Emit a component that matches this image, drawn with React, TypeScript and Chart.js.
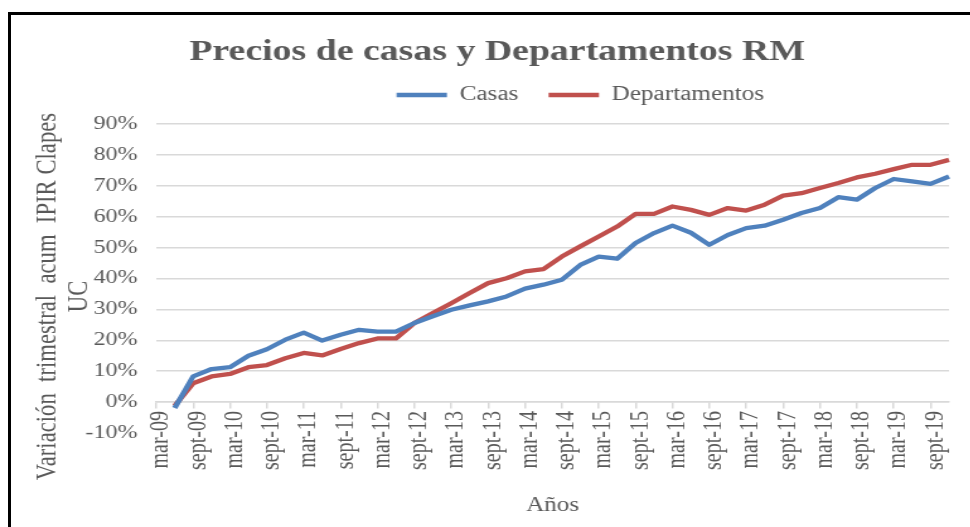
import React, { useEffect, useRef } from 'react';
import { Chart, registerables } from 'chart.js';

Chart.register(...registerables);

const TITLE = 'Precios de casas y Departamentos RM';
const X_TITLE = 'Años';
const Y_TITLE_LINES = ['Variación  trimestral  acum  IPIR Clapes', 'UC'];

const QUARTER_LABELS = [
  'mar-09', 'jun-09', 'sept-09', 'dic-09',
  'mar-10', 'jun-10', 'sept-10', 'dic-10',
  'mar-11', 'jun-11', 'sept-11', 'dic-11',
  'mar-12', 'jun-12', 'sept-12', 'dic-12',
  'mar-13', 'jun-13', 'sept-13', 'dic-13',
  'mar-14', 'jun-14', 'sept-14', 'dic-14',
  'mar-15', 'jun-15', 'sept-15', 'dic-15',
  'mar-16', 'jun-16', 'sept-16', 'dic-16',
  'mar-17', 'jun-17', 'sept-17', 'dic-17',
  'mar-18', 'jun-18', 'sept-18', 'dic-18',
  'mar-19', 'jun-19', 'sept-19', 'dic-19',
];

const CASAS = [
  null, -1.9, 8.3, 10.7,
  11.3, 15.0, 17.1, 20.2,
  22.5, 19.9, 21.8, 23.4,
  22.8, 22.8, 25.6, 27.8,
  29.9, 31.3, 32.6, 34.2,
  36.7, 38.0, 39.6, 44.4,
  47.1, 46.4, 51.5, 54.7,
  57.1, 54.8, 50.9, 54.1,
  56.3, 57.1, 59.0, 61.2,
  62.8, 66.3, 65.5, 69.3,
  72.2, 71.4, 70.6, 73.0,
];

const DEPARTAMENTOS = [
  null, -1.2, 6.1, 8.3,
  9.1, 11.3, 12.0, 14.2,
  15.9, 15.1, 17.2, 19.1,
  20.6, 20.6, 25.6, 28.8,
  32.0, 35.3, 38.5, 40.1,
  42.3, 43.0, 47.1, 50.4,
  53.6, 56.8, 60.9, 60.9,
  63.3, 62.2, 60.6, 62.8,
  62.0, 63.9, 66.8, 67.6,
  69.3, 70.9, 72.7, 73.9,
  75.4, 76.8, 76.8, 78.4,
];

const Y_MIN = -10;
const Y_MAX = 90;
const Y_STEP = 10;

const TEXT = '#595959';
const GRID = '#d9d9d9';
const BLUE = '#4F81BD';
const RED = '#C0504D';
const FONT = '"Liberation Serif", "Times New Roman", serif';

const SCALE_X = 970 / 770;
const LOGICAL_W = 780;
const H = 527;

const yTitlePlugin = {
  id: 'yTitleDraw',
  afterDraw(chart: any) {
    const ctx = chart.ctx;
    const area = chart.chartArea;
    ctx.save();
    ctx.font = `22.7px ${FONT}`;
    ctx.fillStyle = TEXT;
    ctx.textAlign = 'center';
    ctx.textBaseline = 'middle';
    const cy = (area.top + area.bottom) / 2 + 18;
    Y_TITLE_LINES.forEach((line, i) => {
      ctx.save();
      ctx.translate(38 + i * 25.5, cy);
      ctx.rotate(-Math.PI / 2);
      ctx.fillText(line, 0, 0);
      ctx.restore();
    });
    ctx.restore();
  },
};

const legendShiftPlugin = {
  id: 'legendShift',
  afterLayout(chart: any) {
    const lg = chart.legend;
    if (lg) {
      lg.left += 22;
      lg.right += 22;
    }
  },
};

export default function App() {
  const ref = useRef<HTMLCanvasElement>(null);

  useEffect(() => {
    if (!ref.current) return;
    const chart = new Chart(ref.current, {
      type: 'line',
      data: {
        labels: QUARTER_LABELS,
        datasets: [
          {
            label: 'Casas',
            data: CASAS,
            borderColor: BLUE,
            backgroundColor: BLUE,
            borderWidth: 4.3,
            pointRadius: 0,
            tension: 0,
            borderJoinStyle: 'round',
            borderCapStyle: 'butt',
          },
          {
            label: 'Departamentos',
            data: DEPARTAMENTOS,
            borderColor: RED,
            backgroundColor: RED,
            borderWidth: 4.3,
            pointRadius: 0,
            tension: 0,
            borderJoinStyle: 'round',
            borderCapStyle: 'butt',
          },
        ],
      },
      options: {
        responsive: false,
        maintainAspectRatio: false,
        devicePixelRatio: 1,
        animation: false,
        layout: { padding: { left: 25, right: 16, top: 26, bottom: 94 } },
        plugins: {
          title: {
            display: true,
            text: TITLE,
            color: TEXT,
            font: { family: FONT, size: 30, weight: 'bold', lineHeight: 0.6 },
            padding: { top: 17, bottom: 0 },
          },
          legend: {
            display: true,
            position: 'top',
            fullSize: false,
            labels: {
              color: TEXT,
              font: { family: FONT, size: 20 },
              usePointStyle: true,
              pointStyle: 'line',
              pointStyleWidth: 40,
              padding: 24,
            },
          },
          subtitle: {
            display: true,
            text: '',
            weight: 500,
            font: { size: 9, lineHeight: 1 },
            padding: 0,
          },
          tooltip: { enabled: false },
        },
        scales: {
          x: {
            type: 'category',
            position: { y: 0 },
            offset: false,
            grid: {
              drawOnChartArea: false,
              drawTicks: true,
              tickLength: 6,
              color: (c: any) => (c.index % 2 === 0 ? GRID : 'rgba(0,0,0,0)'),
              tickColor: (c: any) => (c.index % 2 === 0 ? GRID : 'rgba(0,0,0,0)'),
              lineWidth: 1.5,
            },
            border: { display: true, color: GRID, width: 1.5 },
            ticks: {
              autoSkip: false,
              minRotation: 90,
              maxRotation: 90,
              color: TEXT,
              padding: 3,
              labelOffset: 4,
              font: { family: FONT, size: 20 },
              callback: function (this: any, _v: any, i: number) {
                return i % 2 === 0 ? QUARTER_LABELS[i] : '';
              },
            },
            title: {
              display: true,
              text: X_TITLE,
              color: TEXT,
              font: { family: FONT, size: 20 },
              padding: { top: 21, bottom: 4 },
            },
          },
          y: {
            min: Y_MIN,
            max: Y_MAX,
            border: { display: false },
            grid: {
              drawTicks: false,
              lineWidth: 1.5,
              color: (c: any) => (c.tick && c.tick.value === Y_MIN ? 'rgba(0,0,0,0)' : GRID),
            },
            ticks: {
              stepSize: Y_STEP,
              color: TEXT,
              padding: 15,
              font: { family: FONT, size: 19 },
              callback: (v: any) => `${v}%`,
            },
            afterFit: (s: any) => {
              s.width = 99;
            },
          },
        },
      },
      plugins: [yTitlePlugin, legendShiftPlugin],
    });
    return () => chart.destroy();
  }, []);

  return (
    <div style={{ position: 'fixed', left: 0, top: 0, width: 970, height: H, background: '#fff', overflow: 'hidden' }}>
      <div
        style={{
          position: 'absolute',
          left: 8,
          top: 12,
          right: 0,
          bottom: 0,
          borderLeft: '3px solid #000',
          borderTop: '3px solid #000',
        }}
      />
      <canvas
        ref={ref}
        width={LOGICAL_W}
        height={H}
        style={{ position: 'absolute', left: 0, top: 0, width: `${LOGICAL_W * SCALE_X}px`, height: `${H}px` }}
      />
    </div>
  );
}
